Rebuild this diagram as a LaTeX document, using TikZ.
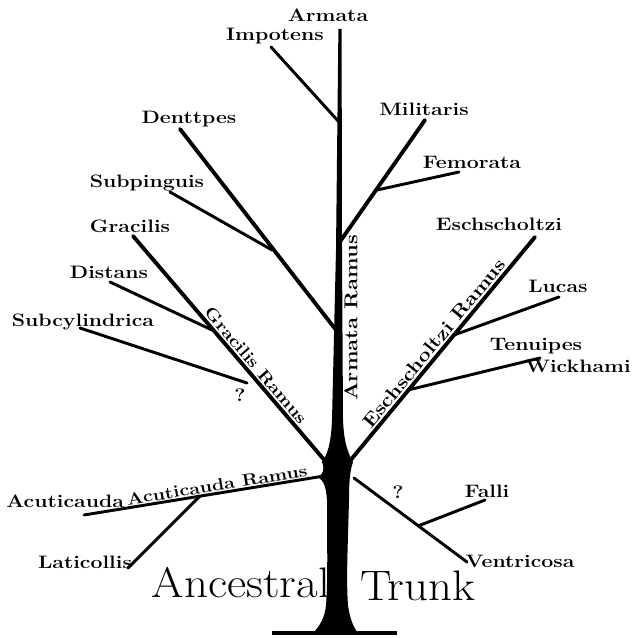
\documentclass[tikz,border=0pt]{standalone}
\usepackage{fontspec}
\setmainfont{Latin Modern Roman}
\newfontfamily\lblfont[FakeStretch=1.18]{Latin Modern Roman}
\newfontfamily\bigfont[FakeStretch=1.1]{Latin Modern Roman}
\usetikzlibrary{calc}
\begin{document}
\begin{tikzpicture}[x=0.75pt,y=-0.75pt,
  lbl/.style={font=\lblfont\fontsize{13.5}{16}\selectfont\bfseries, inner sep=0pt, anchor=base},
  rlbl/.style={font=\lblfont\fontsize{14}{16}\selectfont\bfseries, inner sep=1.5pt},
  srlbl/.style={font=\lblfont\fontsize{12.5}{15}\selectfont\bfseries, inner sep=1.5pt},
  thin/.style={line width=2.2pt, line cap=round},
  thick/.style={line width=2.9pt, line cap=round}]
\useasboundingbox (0,0) rectangle (633,638);

% ---- trunk (with tapering Armata stem) ----
\fill (338.4,29) -- (341.6,29) -- (342,250) -- (343,420)
  .. controls (344,445) and (349,455) .. (353,462)
  .. controls (350,470) and (349,482) .. (349,500)
  .. controls (348,540) and (346,580) .. (348,605)
  .. controls (350,620) and (354,628) .. (358,633)
  -- (313,633)
  .. controls (319,627) and (325,618) .. (326,605)
  .. controls (328,580) and (327,540) .. (327,500)
  .. controls (326,487) and (324,481) .. (318,477)
  .. controls (323,474) and (325,470) .. (322,462)
  .. controls (327,455) and (331,445) .. (332,420)
  -- (336,250) -- cycle;
\coordinate (g1) at (272,633);
\coordinate (g2) at (397,633);
\draw[line width=3.6pt] (g1) -- (g2);

% ---- junctions on the Armata stem ----
\coordinate (jImp) at (339,122);
\coordinate (jMil) at (339,243);
\coordinate (jDen) at (336,330);
\coordinate (jGrB) at (326,462);
\coordinate (jEsB) at (349,462);
\coordinate (jAcB) at (324,476);

% ---- labels ----
\node[lbl] (Armata)  at (328,22)  {Armata};
\node[lbl] (Impot)   at (275,41)  {Impotens};
\node[lbl] (Dent)    at (189,124) {Denttpes};
\node[lbl] (Subp)    at (147,187) {Subpinguis};
\node[lbl] (Grac)    at (130,232) {Gracilis};
\node[lbl] (Dist)    at (109,278) {Distans};
\node[lbl] (Subc)    at (83,326)  {Subcylindrica};
\node[lbl] (Milit)   at (424,116) {Militaris};
\node[lbl] (Femo)    at (472,168) {Femorata};
\node[lbl] (Esch)    at (499,230) {Eschscholtzi};
\node[lbl] (Lucas)   at (558,292) {Lucas};
\node[lbl] (Tenu)    at (536,350) {Tenuipes};
\node[lbl, anchor=base east] (Wick) at (631,372) {Wickhami};
\node[lbl, anchor=base west] (Acut) at (6,507)  {Acuticauda};
\node[lbl] (Lati)    at (85,568)  {Laticollis};
\node[lbl] (Falli)   at (487,497) {Falli};
\node[lbl] (Ventr)   at (520,567) {Ventricosa};
\node[lbl] (q1)      at (240,401) {?};
\node[lbl] (q2)      at (398,498) {?};
\node[font=\bigfont\fontsize{32}{34}\selectfont, inner sep=0pt, anchor=base east] (Anc) at (330,597) {Ancestral};
\node[font=\bigfont\fontsize{32}{34}\selectfont, inner sep=0pt, anchor=base west] (Trk) at (360,600) {Trunk};

% ---- tips of branches ----
\coordinate (tImp) at (271,47);
\coordinate (tDen) at (180,129);
\coordinate (tSub) at (170,192);
\coordinate (tGra) at (133,236);
\coordinate (tDis) at (110,282);
\coordinate (tSc)  at (80,328);
\coordinate (eSc)  at (247,383);
\coordinate (tMil) at (425,120);
\coordinate (tFem) at (459,172);
\coordinate (tEsc) at (535,237);
\coordinate (tLuc) at (559,297);
\coordinate (tTen) at (540,358);
\coordinate (tAcu) at (84,515);
\coordinate (tLat) at (128,568);
\coordinate (sFal) at (354,478);
\coordinate (tVen) at (467,562);
\coordinate (tFal) at (485,500);

% ---- junctions on side branches ----
\coordinate (jSub) at (272,250);
\coordinate (jDis) at (212,330);
\coordinate (jFem) at (377,190);
\coordinate (jLuc) at (454,335);
\coordinate (jTen) at (408,390);
\coordinate (jLat) at (200,496);
\coordinate (jFal) at (418,526);

% ---- Armata branches ----
\draw[thin] (tImp) -- (jImp);
\draw[thick] (tMil) -- (jMil);
\draw[thin] (tFem) -- (jFem);
\draw[thick] (tDen) -- (jDen);
\draw[thin] (tSub) -- (jSub);

% ---- Gracilis ramus ----
\draw[thick] (tGra) -- (jGrB);
\draw[thin] (tDis) -- (jDis);
\draw[thin] (tSc) -- (eSc);

% ---- Eschscholtzi ramus ----
\draw[thick] (jEsB) -- (tEsc);
\draw[thin] (tLuc) -- (jLuc);
\draw[thin] (tTen) -- (jTen);

% ---- Acuticauda ramus ----
\draw[thin] (tAcu) -- (jAcB);
\draw[thin] (tLat) -- (jLat);

% ---- Falli / Ventricosa ----
\draw[thin] (sFal) -- (tVen);
\draw[thin] (jFal) -- (tFal);

% ---- ramus labels ----
\path (tGra) -- (jGrB) node[srlbl, pos=0.6, sloped, above=1pt] (GR) {Gracilis Ramus};
\path (jEsB) -- (tEsc) node[rlbl, pos=0.5, sloped, above=1pt] (ER) {Eschscholtzi Ramus};
\path (tAcu) -- (jAcB) node[srlbl, pos=0.56, sloped, above] (AR) {Acuticauda Ramus};
\node[rlbl, rotate=90, anchor=north, inner sep=0pt] (ArR) at (344,318) {Armata Ramus};
\end{tikzpicture}
\end{document}
